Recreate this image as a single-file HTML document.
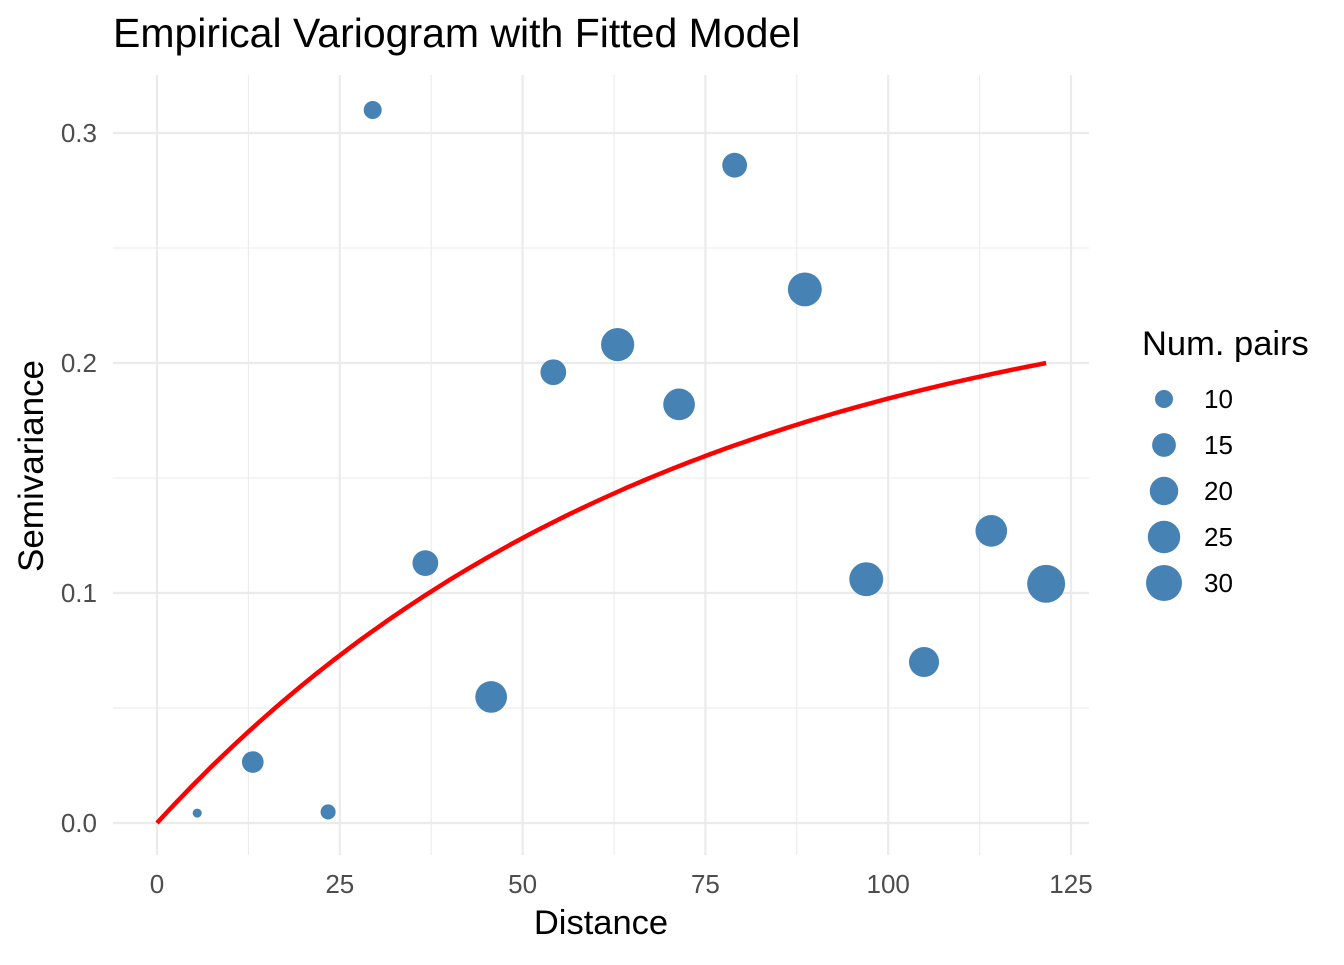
<!DOCTYPE html>
<html><head><meta charset="utf-8"><style>
body{margin:0;background:#fff;}
svg text{font-family:"Liberation Sans",sans-serif;}
</style></head><body>
<svg id="chart" width="1344" height="960" xmlns="http://www.w3.org/2000/svg">
<text x="113" y="47" font-size="41" fill="#000">Empirical Variogram with Fitted Model</text>
<g id="grid"></g>
<g id="curve"></g>
<g id="points"></g>
<g id="axes"></g>
<text x="601" y="934" font-size="34.5" text-anchor="middle" fill="#000">Distance</text>
<text transform="translate(43,466) rotate(-90)" font-size="35" text-anchor="middle" fill="#000">Semivariance</text>
<g id="legend">
<text x="1142" y="355" font-size="34.5" fill="#000">Num. pairs</text>
</g>
</svg>
<script>
const distances=[5.5,13.1,23.4,29.5,36.7,45.7,54.2,63.0,71.4,79.0,88.6,97.0,104.9,114.1,121.6];
const gammas=[0.0043,0.0265,0.0048,0.310,0.113,0.0548,0.196,0.208,0.182,0.286,0.232,0.106,0.070,0.127,0.104];
const npairs=[5,13,8,10,17,24,17,26,24,16,27,27,22,24,33];
const xTicks=[0,25,50,75,100,125];
const yTicks=[0.0,0.1,0.2,0.3];
const yTickLabels=["0.0","0.1","0.2","0.3"];
const legendSizes=[10,15,20,25,30];
const modelSill=0.2427, modelRange=70, modelMaxH=121.6;

const NS="http://www.w3.org/2000/svg";
const xS=v=>157+v*7.312;
const yS=v=>823-v*2300;
const rS=n=>Math.sqrt(Math.max(4,81+12.15*(n-10)));
function mk(tag,attrs,parent){const e=document.createElementNS(NS,tag);for(const k in attrs)e.setAttribute(k,attrs[k]);parent.appendChild(e);return e;}
const grid=document.getElementById('grid');
for(let v=0;v<=125;v+=12.5){const major=xTicks.includes(v);
const l=mk('line',{x1:xS(v),x2:xS(v),y1:75,y2:855,stroke:'#ebebeb','stroke-width':major?2.2:1.1},grid);

}
for(let v=0;v<=0.32;v+=0.05){const major=Math.abs(Math.round(v*10)-v*10)<1e-6;
const l=mk('line',{x1:113,x2:1089,y1:yS(v),y2:yS(v),stroke:'#ebebeb','stroke-width':major?2.2:1.1},grid);

}
const axes=document.getElementById('axes');
xTicks.forEach(v=>{const t=mk('text',{x:xS(v),y:893,'font-size':26,'text-anchor':'middle',fill:'#4d4d4d'},axes);t.textContent=v;

});
yTicks.forEach((v,i)=>{const t=mk('text',{x:97,y:yS(v)+9,'font-size':26,'text-anchor':'end',fill:'#4d4d4d'},axes);t.textContent=yTickLabels[i];

});
let d='';for(let i=0;i<=100;i++){const h=modelMaxH*i/100;const g=modelSill*(1-Math.exp(-h/modelRange));d+=(i?'L':'M')+xS(h).toFixed(1)+' '+yS(g).toFixed(1);}
const c=mk('path',{d:d,fill:'none',stroke:'#ff0000','stroke-width':4.5},document.getElementById('curve'));


const pts=document.getElementById('points');
distances.forEach((x,i)=>{const p=mk('circle',{cx:xS(x),cy:yS(gammas[i]),r:rS(npairs[i]),fill:'#4682b4'},pts);

});
const lg=document.getElementById('legend');
legendSizes.forEach((n,i)=>{const cy=399+i*46;
const k=mk('circle',{cx:1164,cy:cy,r:rS(n),fill:'#4682b4'},lg);


const t=mk('text',{x:1204,y:cy+9,'font-size':26,fill:'#000'},lg);t.textContent=n;

});
</script>
</body></html>
